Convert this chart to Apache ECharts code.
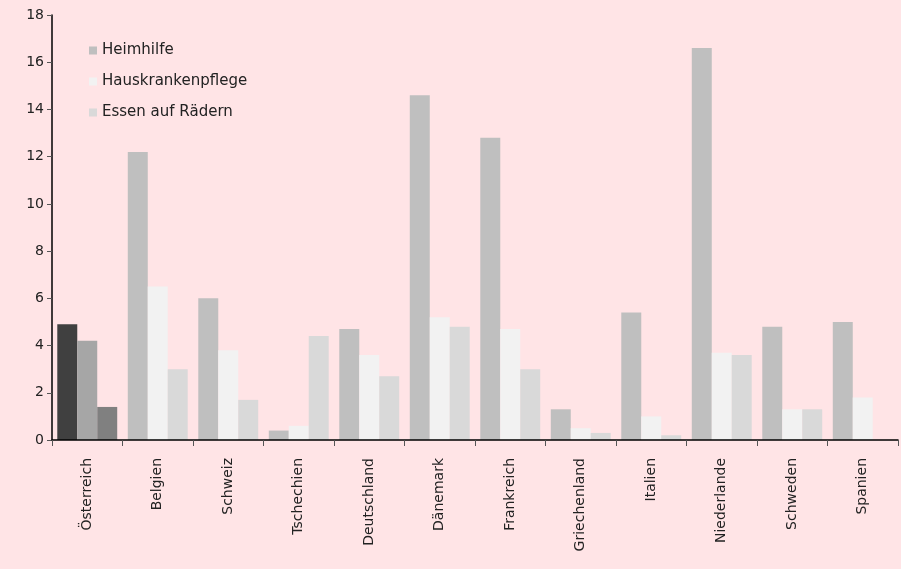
<!DOCTYPE html>
<html>
<head>
<meta charset="utf-8">
<script src="https://cdn.jsdelivr.net/npm/echarts@6/dist/echarts.min.js"></script>
<style>
html,body{margin:0;padding:0;background:#FFE4E6;}
#c{width:901px;height:569px;}
</style>
</head>
<body>
<div id="c"></div>
<script>
const categories = ['Österreich','Belgien','Schweiz','Tschechien','Deutschland','Dänemark','Frankreich','Griechenland','Italien','Niederlande','Schweden','Spanien'];
const heimhilfe = [4.9, 12.2, 6.0, 0.4, 4.7, 14.6, 12.8, 1.3, 5.4, 16.6, 4.8, 5.0];
const hauskrankenpflege = [4.2, 6.5, 3.8, 0.6, 3.6, 5.2, 4.7, 0.5, 1.0, 3.7, 1.3, 1.8];
const essenAufRaedern = [1.4, 3.0, 1.7, 4.4, 2.7, 4.8, 3.0, 0.3, 0.2, 3.6, 1.3, null];
const yTicks = [0, 2, 4, 6, 8, 10, 12, 14, 16, 18];

const seriesColors = ['#BFBFBF', '#F2F2F2', '#D9D9D9'];
const highlightColors = ['#404040', '#A6A6A6', '#808080'];

function toData(arr, si) {
  return arr.map((v, i) => i === 0 ? { value: v, itemStyle: { color: highlightColors[si] } } : v);
}

const chart = echarts.init(document.getElementById('c'));
const font = 'DejaVu Sans';
chart.setOption({
  backgroundColor: '#FFE4E6',
  animation: false,
  textStyle: { fontFamily: font },
  grid: { left: 52, right: 3, top: 15, bottom: 129 },
  legend: {
    orient: 'vertical',
    left: 84,
    top: 38,
    itemWidth: 8,
    itemHeight: 8,
    itemGap: 16,
    icon: 'rect',
    textStyle: { fontFamily: font, fontSize: 15, color: '#222' },
    data: ['Heimhilfe', 'Hauskrankenpflege', 'Essen auf Rädern']
  },
  xAxis: {
    type: 'category',
    data: categories,
    z: 10,
    axisLine: { lineStyle: { color: '#000', width: 1.5 } },
    axisTick: { show: true, length: 6, lineStyle: { color: '#555' } },
    axisLabel: { rotate: 90, margin: 18, fontSize: 14, color: '#222', fontFamily: font }
  },
  yAxis: {
    type: 'value',
    min: 0,
    max: 18,
    interval: 2,
    splitLine: { show: false },
    axisLine: { show: true, lineStyle: { color: '#000', width: 1.5 } },
    axisTick: { show: true, length: 5, lineStyle: { color: '#555' } },
    axisLabel: { fontSize: 14, color: '#222', margin: 8, fontFamily: font,
      formatter: v => yTicks.includes(v) ? String(v) : '' }
  },
  series: [
    { name: 'Heimhilfe', type: 'bar', data: toData(heimhilfe, 0), itemStyle: { color: seriesColors[0] }, barGap: '0%', barCategoryGap: '15%' },
    { name: 'Hauskrankenpflege', type: 'bar', data: toData(hauskrankenpflege, 1), itemStyle: { color: seriesColors[1] }, barGap: '0%', barCategoryGap: '15%' },
    { name: 'Essen auf Rädern', type: 'bar', data: toData(essenAufRaedern, 2), itemStyle: { color: seriesColors[2] }, barGap: '0%', barCategoryGap: '15%' }
  ]
});
</script>
</body>
</html>
